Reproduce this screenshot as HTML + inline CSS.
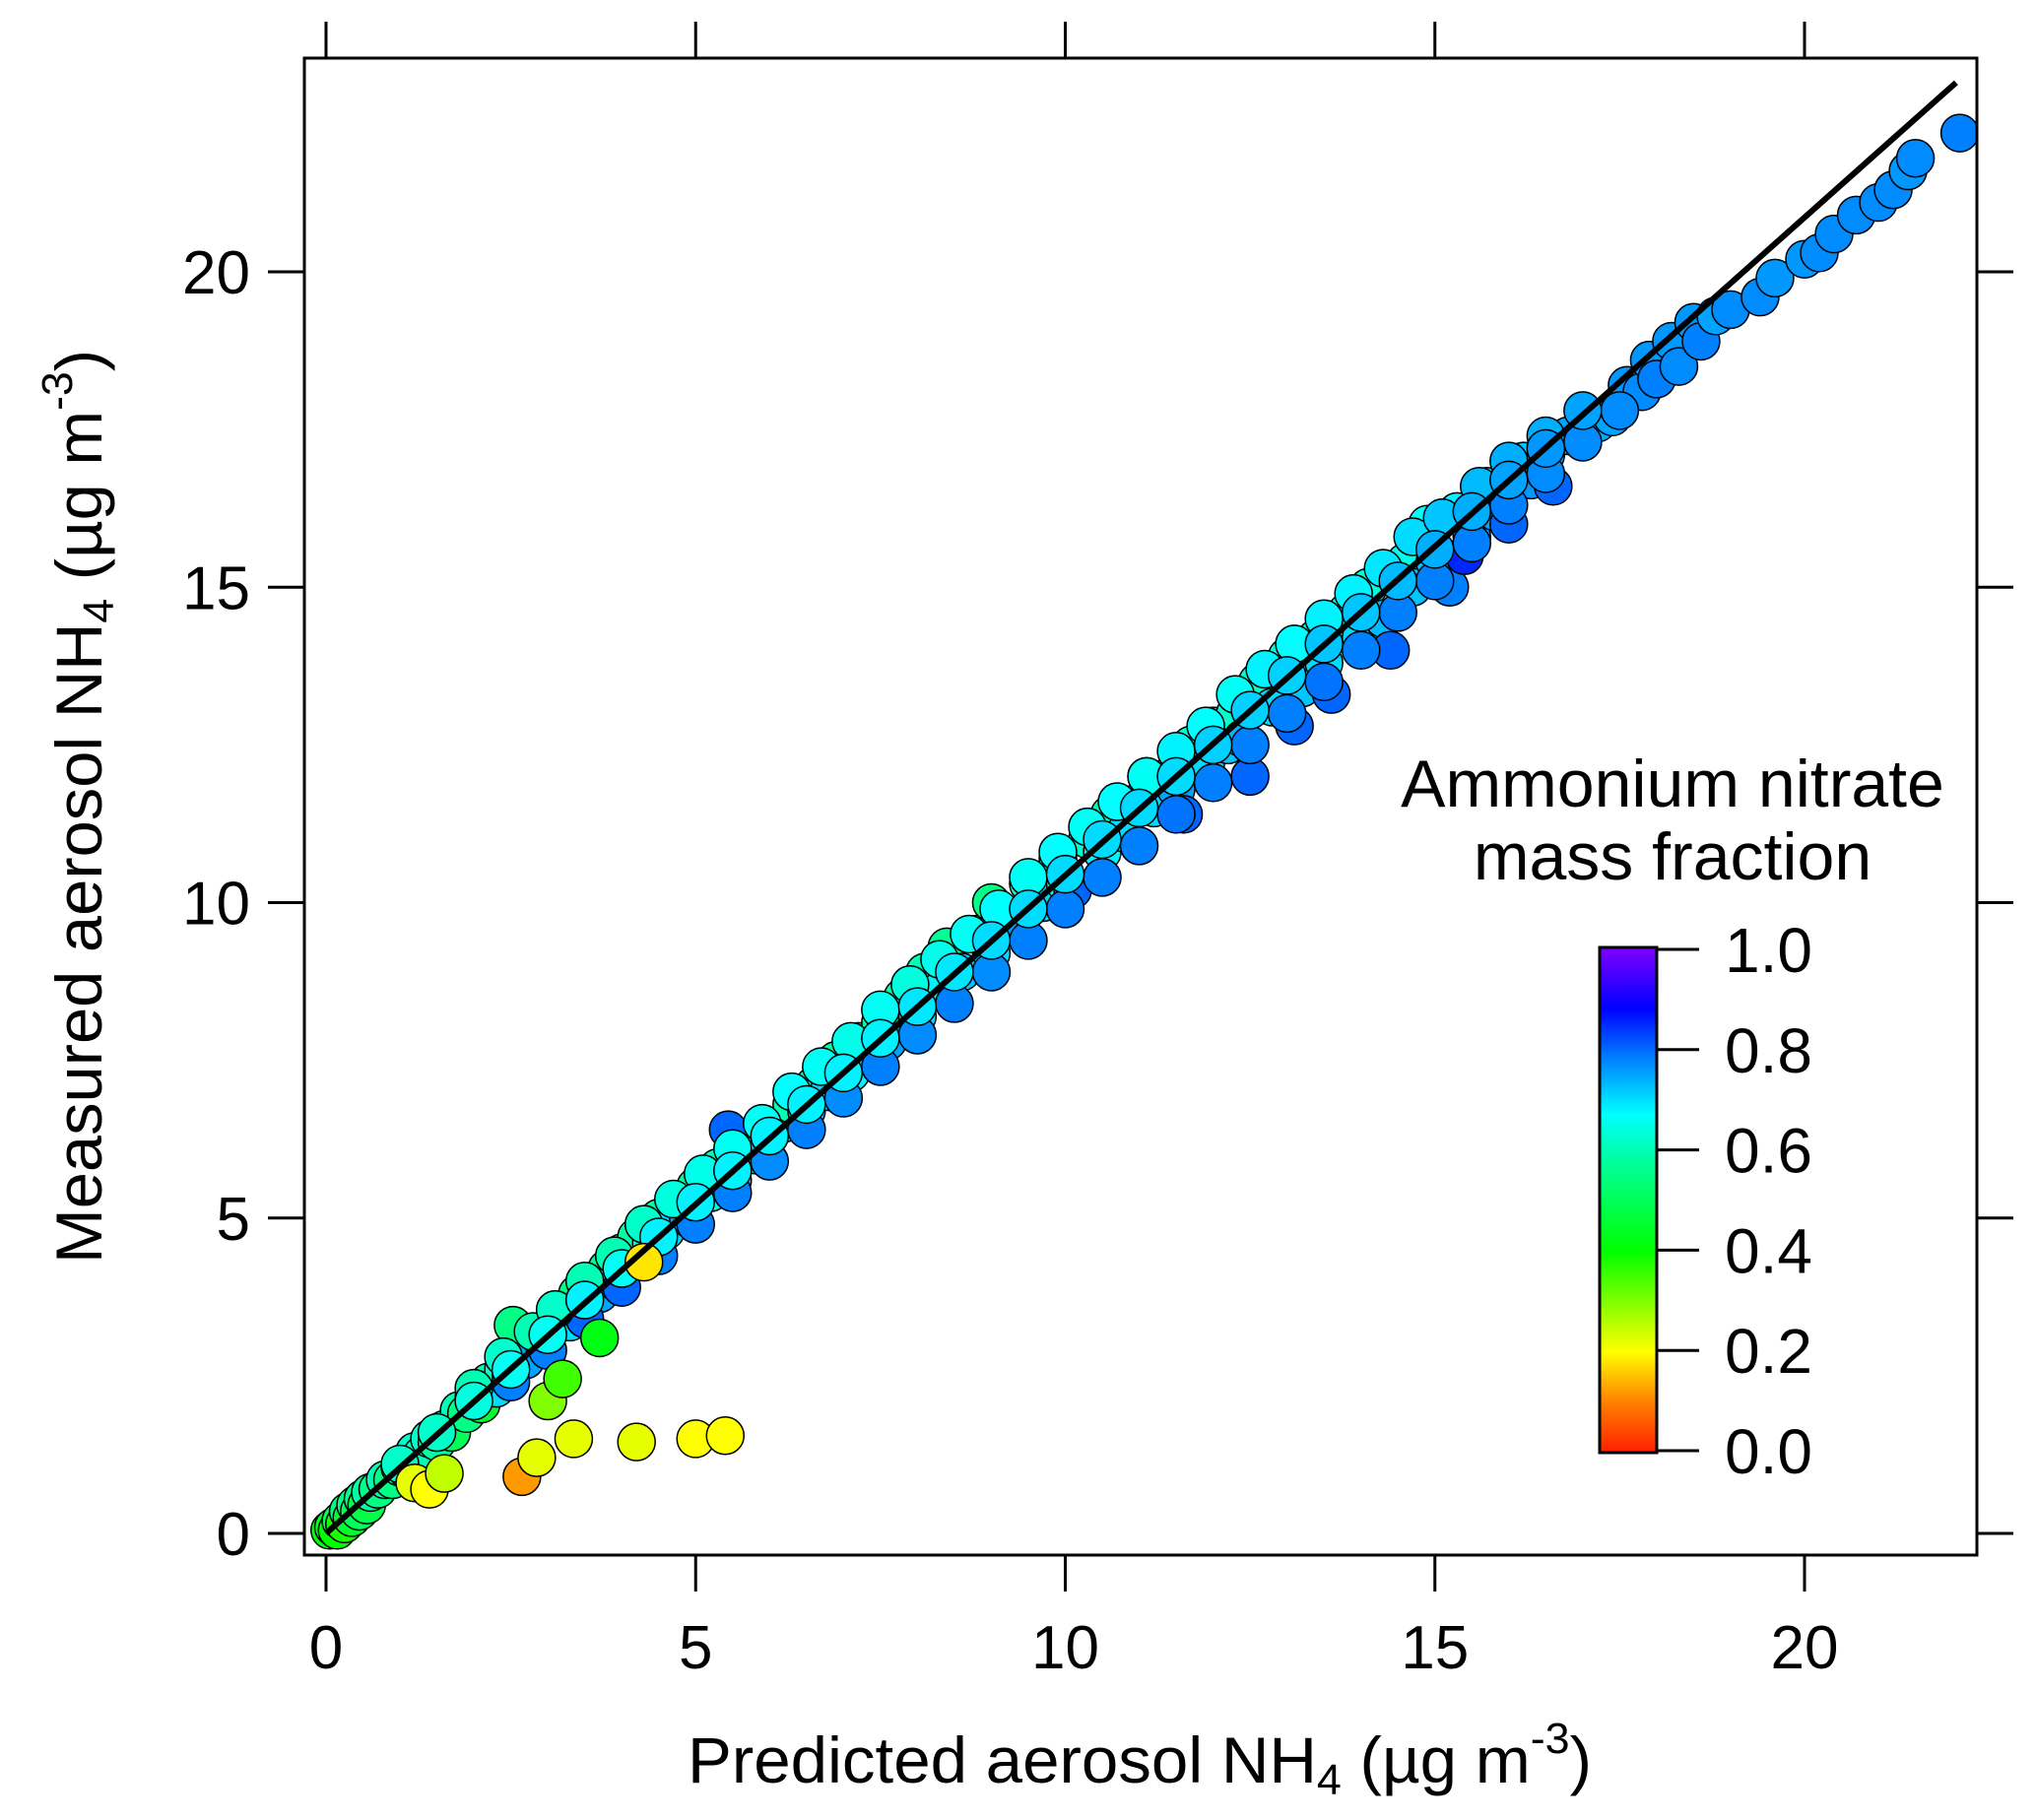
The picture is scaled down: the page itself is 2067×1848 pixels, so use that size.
<!DOCTYPE html>
<html><head><meta charset="utf-8"><style>
html,body{margin:0;padding:0;background:#fff;}
svg{display:block;font-family:"Liberation Sans",Arial,sans-serif;}
</style></head><body>
<svg id="chart" width="2067" height="1848" viewBox="0 0 2067 1848" xmlns="http://www.w3.org/2000/svg">
<defs>
<linearGradient id="cbgrad" x1="0" y1="1" x2="0" y2="0">
<stop offset="0" stop-color="#ff2000"/>
<stop offset="0.1" stop-color="#ff8000"/>
<stop offset="0.2" stop-color="#ffff00"/>
<stop offset="0.4" stop-color="#00ff00"/>
<stop offset="0.58" stop-color="#00ffa0"/>
<stop offset="0.67" stop-color="#00ffff"/>
<stop offset="0.78" stop-color="#0080ff"/>
<stop offset="0.88" stop-color="#0000ff"/>
<stop offset="1" stop-color="#8000ff"/>
</linearGradient>
<clipPath id="plotclip"><rect x="309" y="59" width="1698" height="1520"/></clipPath>
</defs>
<g id="points" clip-path="url(#plotclip)"></g>
<line id="fitline" stroke="#000" stroke-width="6"/>
<rect x="309" y="59" width="1698" height="1520" fill="none" stroke="#000" stroke-width="3"/>
<g id="axes"></g>
<text x="1157" y="1810" font-size="66" text-anchor="middle" textLength="918" lengthAdjust="spacingAndGlyphs">Predicted  aerosol NH<tspan font-size="44" dy="12">4</tspan><tspan dy="-12"> (µg m</tspan><tspan font-size="44" dy="-30">-3</tspan><tspan dy="30">)</tspan></text>
<text transform="translate(103,819) rotate(-90)" font-size="66" text-anchor="middle" textLength="928" lengthAdjust="spacingAndGlyphs">Measured  aerosol NH<tspan font-size="44" dy="12">4</tspan><tspan dy="-12"> (µg m</tspan><tspan font-size="44" dy="-30">-3</tspan><tspan dy="30">)</tspan></text>
<g>
<text x="1698" y="819" font-size="68" text-anchor="middle">Ammonium nitrate</text>
<text x="1698" y="893" font-size="68" text-anchor="middle">mass fraction</text>
<rect x="1624" y="962" width="58" height="513" fill="url(#cbgrad)" stroke="#000" stroke-width="3"/>
<g id="cbticks"></g>
</g>
</svg>
<script>
const xs=[0.05,0.1,0.15,0.2,0.25,0.3,0.35,0.4,0.45,0.5,0.55,0.6,0.7,0.8,0.9,1.0,1.1,1.2,1.3,1.4,1.5,1.6,1.7,1.8,1.9,2.0,2.1,2.2,2.3,2.4,2.5,2.6,2.53,2.7,2.9,3.0,3.2,3.3,3.4,3.5,3.6,3.7,3.8,3.9,4.0,4.1,4.2,4.4,4.5,4.6,4.8,4.9,5.0,5.2,5.3,5.5,5.6,5.8,5.44,6.0,6.2,6.3,6.5,6.6,6.8,6.9,7.1,7.2,7.4,7.5,7.6,7.8,8.0,8.1,8.3,8.4,8.6,8.8,9.0,9.0,9.2,9.4,9.5,9.7,9.9,10.0,10.1,10.3,10.5,10.6,10.8,11.0,11.1,11.2,11.4,11.5,11.6,11.7,11.9,12.0,12.2,12.3,12.4,12.5,12.6,12.8,13.0,13.1,13.2,13.4,13.5,13.6,13.8,14.0,14.1,14.3,14.4,14.6,14.7,14.9,15.0,15.2,15.3,15.5,15.4,15.7,15.8,16.0,16.2,16.3,16.5,16.6,16.8,17.0,17.2,17.4,17.6,17.8,17.9,18.0,18.2,18.3,18.5,18.6,18.8,19.0,19.4,19.6,20.0,20.2,20.4,20.7,21.0,21.2,21.4,21.5,22.1];
const ys=[0.05,0.1,0.05,0.2,0.15,0.35,0.25,0.45,0.35,0.55,0.45,0.65,0.7,0.85,0.85,1.05,1.0,1.3,1.25,1.5,1.45,1.65,1.6,1.95,1.9,2.15,2.05,2.4,2.3,2.6,2.5,2.85,3.3,2.75,3.1,3.25,3.5,3.35,3.8,3.6,3.95,3.8,4.2,4.0,4.45,4.3,4.7,4.6,5.0,4.8,5.25,5.0,5.5,5.4,5.8,5.6,6.1,6.0,6.4,6.3,6.5,6.8,6.7,7.1,7.0,7.5,7.3,7.8,7.6,8.1,7.8,8.5,8.2,8.9,8.6,9.3,8.9,9.5,9.2,10.0,9.8,9.6,10.3,10.0,10.7,10.3,10.2,11.0,10.8,11.4,11.1,11.6,12.0,11.5,12.0,11.8,11.4,12.5,12.2,12.8,12.5,13.0,12.6,12.0,13.5,13.1,13.9,12.8,13.4,14.2,13.8,13.3,14.6,14.2,15.0,14.5,14.0,15.4,15.0,16.0,15.4,15.0,16.2,15.8,15.5,16.6,16.2,16.0,17.0,16.7,17.1,16.6,17.4,17.3,17.6,17.7,18.2,18.1,18.6,18.3,18.9,18.5,19.2,18.9,19.3,19.4,19.6,19.9,20.2,20.3,20.6,20.9,21.1,21.3,21.6,21.8,22.2];
const fracs=[0.42,0.45,0.4,0.5,0.38,0.55,0.45,0.55,0.5,0.56,0.48,0.58,0.55,0.6,0.55,0.6,0.55,0.62,0.6,0.62,0.58,0.6,0.5,0.6,0.55,0.6,0.45,0.6,0.7,0.62,0.58,0.6,0.55,0.75,0.6,0.8,0.6,0.7,0.55,0.65,0.6,0.75,0.55,0.7,0.55,0.82,0.58,0.65,0.58,0.7,0.56,0.75,0.58,0.65,0.6,0.72,0.62,0.7,0.8,0.62,0.7,0.6,0.72,0.62,0.7,0.58,0.68,0.6,0.7,0.58,0.75,0.58,0.7,0.6,0.68,0.57,0.72,0.6,0.7,0.55,0.6,0.75,0.62,0.7,0.62,0.65,0.8,0.62,0.68,0.6,0.7,0.62,0.58,0.7,0.62,0.75,0.8,0.62,0.7,0.63,0.72,0.62,0.73,0.8,0.62,0.7,0.63,0.8,0.72,0.63,0.7,0.8,0.64,0.7,0.63,0.73,0.8,0.65,0.72,0.66,0.72,0.78,0.68,0.75,0.85,0.7,0.75,0.8,0.72,0.76,0.74,0.8,0.75,0.76,0.74,0.75,0.76,0.77,0.76,0.78,0.76,0.77,0.76,0.78,0.75,0.77,0.77,0.76,0.76,0.77,0.77,0.77,0.77,0.77,0.76,0.77,0.78];
const lowX=[2.5,3.0,3.5,4.0,4.5,5.0,5.5,6.0,6.5,7.0,7.5,8.0,8.5,9.0,9.5,10.0,10.5,11.0,11.5,12.0,12.5,13.0,13.5,14.0,14.5,15.0,15.5,16.0,16.5,17.0,17.5];
const lowY=[2.4,2.9,3.4,3.9,4.4,4.9,5.4,5.9,6.4,6.9,7.4,7.9,8.4,8.9,9.4,9.9,10.4,10.9,11.4,11.9,12.5,13.0,13.5,14.0,14.6,15.1,15.7,16.3,16.8,17.3,17.8];
const lowF=[0.78,0.78,0.8,0.8,0.78,0.78,0.78,0.77,0.78,0.77,0.78,0.77,0.78,0.77,0.78,0.78,0.78,0.78,0.79,0.78,0.78,0.78,0.79,0.78,0.78,0.78,0.78,0.78,0.77,0.77,0.77];
const upX=[2.0,2.4,2.8,3.1,3.5,3.9,4.3,4.7,5.1,5.5,5.9,6.3,6.7,7.1,7.5,7.9,8.3,8.7,9.1,9.5,9.9,10.3,10.7,11.1,11.5,11.9,12.3,12.7,13.1,13.5,13.9,14.3,14.7,15.1,15.6,16.0,16.5,17.0];
const upY=[2.3,2.8,3.2,3.55,4.0,4.4,4.9,5.3,5.7,6.1,6.5,7.0,7.4,7.8,8.3,8.7,9.1,9.5,9.9,10.4,10.8,11.2,11.6,12.0,12.4,12.8,13.3,13.7,14.1,14.5,14.9,15.3,15.8,16.1,16.6,17.0,17.4,17.8];
const upF=[0.6,0.62,0.6,0.62,0.6,0.6,0.62,0.64,0.65,0.66,0.66,0.67,0.66,0.65,0.66,0.64,0.65,0.66,0.67,0.66,0.67,0.66,0.67,0.66,0.68,0.67,0.66,0.68,0.67,0.68,0.68,0.69,0.7,0.72,0.73,0.74,0.74,0.75];
const midX=[1.0,1.5,2.0,2.5,3.0,3.5,4.0,4.5,5.0,5.5,6.0,6.5,7.0,7.5,8.0,8.5,9.0,9.5,10.0,10.5,11.0,11.5,12.0,12.5,13.0,13.5,14.0,14.5,15.0,15.5,16.0,16.5];
const midY=[1.1,1.6,2.1,2.6,3.15,3.7,4.2,4.7,5.25,5.75,6.3,6.8,7.3,7.85,8.35,8.9,9.4,9.9,10.45,11.0,11.5,12.0,12.5,13.05,13.6,14.1,14.6,15.1,15.6,16.2,16.7,17.2];
const midF=[0.62,0.62,0.64,0.66,0.66,0.68,0.66,0.68,0.68,0.68,0.68,0.68,0.68,0.68,0.69,0.69,0.7,0.7,0.7,0.7,0.7,0.7,0.71,0.71,0.71,0.72,0.72,0.73,0.74,0.74,0.75,0.76];
const outX=[1.2,1.4,1.6,2.65,2.85,3.0,3.2,3.35,3.7,4.2,4.3,5.0,5.4];
const outY=[0.8,0.7,0.95,0.9,1.2,2.1,2.45,1.5,3.1,1.45,4.3,1.5,1.55];
const outF=[0.22,0.2,0.25,0.12,0.22,0.3,0.35,0.22,0.42,0.22,0.18,0.2,0.2];
const xTicks=[0,5,10,15,20];
const yTicks=[0,5,10,15,20];
const cbTicks=[0.0,0.2,0.4,0.6,0.8,1.0];
const cbLabels=["0.0","0.2","0.4","0.6","0.8","1.0"];
const fitEnd=[22.05,23.0];

const NS="http://www.w3.org/2000/svg";
const X=v=>331+v*75.05;
const Y=v=>1557-v*64.05;
const CB=v=>1473-v*(1473-964);
const stops=[[0,[255,32,0]],[0.1,[255,128,0]],[0.2,[255,255,0]],[0.4,[0,255,0]],[0.58,[0,255,160]],[0.67,[0,255,255]],[0.78,[0,128,255]],[0.88,[0,0,255]],[1,[128,0,255]]];
function cmap(f){for(let i=1;i<stops.length;i++){if(f<=stops[i][0]){const a=stops[i-1],b=stops[i];const t=(f-a[0])/(b[0]-a[0]);const c=a[1].map((v,k)=>Math.round(v+(b[1][k]-v)*t));return `rgb(${c[0]},${c[1]},${c[2]})`;}}return 'rgb(128,0,255)';}
function mk(tag,attrs,parent){const e=document.createElementNS(NS,tag);for(const k in attrs)e.setAttribute(k,attrs[k]);parent.appendChild(e);return e;}
const pg=document.getElementById('points');
function drawSet(a,b,f){
 for(let i=0;i<a.length;i++){
  const c=mk('circle',{cx:X(a[i]),cy:Y(b[i]),r:19,fill:cmap(f[i]),stroke:'#000','stroke-width':1.5},pg);
  
  
 }
}
drawSet(xs,ys,fracs);
drawSet(lowX,lowY,lowF);
drawSet(upX,upY,upF);
drawSet(midX,midY,midF);
drawSet(outX,outY,outF);
const fl=document.getElementById('fitline');
fl.setAttribute('x1',X(0));fl.setAttribute('y1',Y(0));fl.setAttribute('x2',X(fitEnd[0]));fl.setAttribute('y2',Y(fitEnd[1]));
const ax=document.getElementById('axes');
xTicks.forEach(v=>{
 const t1=mk('line',{x1:X(v),x2:X(v),y1:1579,y2:1616,stroke:'#000','stroke-width':3},ax);
 
 
 const t2=mk('line',{x1:X(v),x2:X(v),y1:59,y2:22,stroke:'#000','stroke-width':3},ax);
 
 
 const tx=mk('text',{x:X(v),y:1694,'font-size':62,'text-anchor':'middle'},ax);
 tx.textContent=String(v);
 
 
});
yTicks.forEach(v=>{
 const t1=mk('line',{x1:272,x2:309,y1:Y(v),y2:Y(v),stroke:'#000','stroke-width':3},ax);
 
 
 const t2=mk('line',{x1:2007,x2:2044,y1:Y(v),y2:Y(v),stroke:'#000','stroke-width':3},ax);
 
 
 const tx=mk('text',{x:254,y:Y(v)+22,'font-size':62,'text-anchor':'end'},ax);
 tx.textContent=String(v);
 
 
});
const cbt=document.getElementById('cbticks');
cbTicks.forEach((v,i)=>{
 const l=mk('line',{x1:1682,x2:1725,y1:CB(v),y2:CB(v),stroke:'#000','stroke-width':3},cbt);
 
 
 const tx=mk('text',{x:1751,y:CB(v)+23,'font-size':64},cbt);
 tx.textContent=cbLabels[i];
 
 
});
</script>
</body></html>
